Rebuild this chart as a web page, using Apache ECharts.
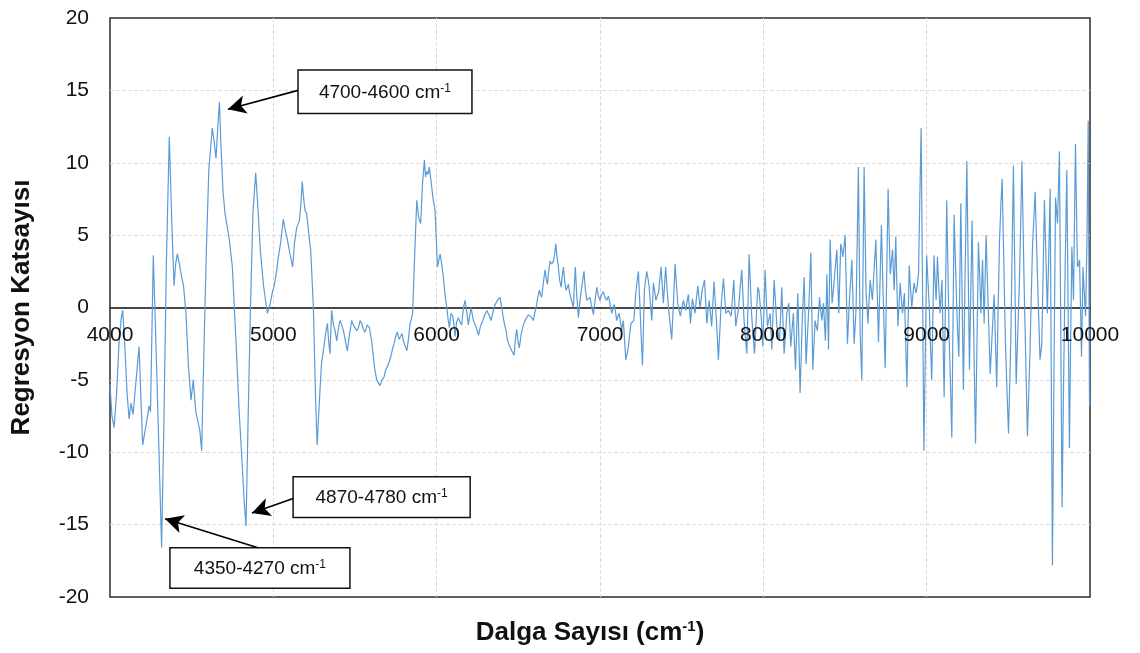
<!DOCTYPE html>
<html>
<head>
<meta charset="utf-8">
<script src="https://cdn.jsdelivr.net/npm/echarts@6/dist/echarts.min.js"></script>
<style>html,body{margin:0;padding:0;background:#fff;}#c{width:1140px;height:653px;}</style>
</head>
<body>
<div id="c"></div>
<script>
// ---- DATA ----
const wavenumbers = [
4000,4012,4025,4040,4055,4068,4078,4090,4105,4117,4129,4141,4160,4178,4190,4200,4215,4230,4239,4248,4265,4280,4300,4316,4330,4345,4363,4378,4392,4402,4412,4425,4439,4450,4465,4480,4496,4510,4525,4537,4550,4561,4575,4590,4605,4626,4637,4649,4660,4670,4680,4692,4704,4729,4749,4770,4790,4810,4822,4833,4845,4860,4875,4892,4905,4920,4940,4963,4980,4993,5005,5020,5031,5045,5061,5075,5086,5100,5118,5130,5143,5159,5168,5177,5186,5194,5204,5218,5229,5245,5258,5268,5282,5294,5306,5320,5331,5340,5347,5357,5368,5378,5388,5398,5408,5419,5429,5441,5453,5467,5480,5490,5500,5510,5521,5531,5541,5551,5561,5575,5588,5602,5613,5623,5633,5643,5653,5665,5678,5688,5698,5708,5719,5729,5739,5749,5759,5770,5780,5788,5796,5806,5817,5827,5837,5845,5853,5865,5878,5890,5902,5913,5925,5932,5939,5947,5955,5968,5978,5990,6005,6021,6031,6041,6052,6062,6070,6078,6088,6099,6106,6113,6122,6133,6143,6153,6164,6174,6184,6194,6203,6211,6218,6225,6240,6256,6268,6282,6295,6307,6320,6333,6345,6358,6372,6388,6398,6408,6416,6425,6433,6443,6452,6460,6467,6474,6482,6490,6498,6506,6518,6531,6541,6551,6562,6572,6582,6592,6600,6609,6619,6629,6636,6643,6653,6664,6671,6678,6686,6694,6704,6715,6722,6729,6737,6745,6753,6762,6769,6776,6784,6792,6800,6807,6814,6821,6830,6837,6843,6849,6858,6868,6875,6882,6892,6902,6910,6919,6929,6939,6950,6960,6970,6980,6990,7000,7010,7021,7031,7041,7052,7062,7072,7080,7088,7095,7102,7110,7117,7125,7133,7138,7143,7150,7158,7166,7174,7182,7190,7198,7207,7213,7219,7227,7235,7240,7245,7252,7260,7266,7272,7279,7286,7294,7301,7309,7317,7322,7327,7335,7342,7350,7358,7366,7374,7381,7388,7395,7402,7410,7419,7429,7439,7450,7460,7468,7476,7484,7492,7501,7511,7518,7525,7533,7541,7548,7554,7560,7566,7574,7582,7590,7599,7606,7613,7620,7627,7634,7640,7647,7654,7661,7668,7676,7684,7691,7698,7705,7713,7719,7725,7733,7741,7748,7756,7763,7770,7778,7786,7795,7803,7811,7819,7825,7831,7839,7847,7857,7868,7875,7882,7890,7899,7906,7913,7921,7929,7937,7946,7956,7966,7973,7980,7988,7997,8004,8011,8018,8025,8033,8042,8047,8052,8059,8066,8075,8083,8091,8099,8106,8113,8120,8127,8136,8144,8150,8156,8162,8168,8176,8184,8190,8197,8204,8211,8218,8225,8232,8238,8244,8250,8256,8262,8269,8276,8284,8291,8297,8303,8310,8317,8324,8331,8338,8344,8351,8358,8363,8368,8374,8380,8385,8389,8394,8399,8404,8409,8415,8421,8428,8434,8442,8450,8456,8462,8468,8474,8481,8487,8494,8501,8508,8515,8521,8527,8535,8542,8549,8556,8562,8568,8575,8582,8587,8593,8598,8603,8610,8617,8623,8629,8635,8640,8647,8654,8661,8668,8678,8689,8697,8705,8714,8723,8734,8746,8755,8764,8770,8777,8784,8791,8796,8801,8806,8811,8817,8824,8831,8838,8845,8852,8858,8864,8871,8879,8886,8893,8901,8909,8916,8923,8929,8936,8943,8950,8958,8966,8975,8983,8992,9000,9008,9016,9023,9031,9038,9045,9051,9058,9062,9066,9074,9082,9088,9094,9100,9107,9115,9123,9130,9137,9146,9154,9161,9168,9176,9184,9190,9197,9203,9209,9217,9225,9235,9246,9254,9262,9270,9278,9288,9299,9308,9317,9325,9332,9337,9342,9347,9352,9358,9364,9376,9389,9401,9413,9421,9429,9437,9446,9454,9462,9472,9482,9491,9501,9508,9515,9523,9531,9540,9548,9558,9568,9576,9583,9590,9597,9607,9617,9625,9633,9640,9648,9656,9664,9671,9678,9686,9694,9700,9705,9713,9721,9730,9739,9748,9756,9763,9770,9779,9789,9795,9801,9807,9813,9821,9829,9838,9848,9853,9858,9866,9874,9881,9889,9894,9899,9905,9911,9917,9923,9930,9936,9942,9948,9953,9957,9961,9965,9969,9973,9977,9981,9985,9989,9993,9997,10000
];
const coefficients = [
-5.3,-7.5,-8.3,-6.0,-2.5,-0.8,-0.2,-2.5,-6.0,-7.7,-6.6,-7.4,-5.0,-2.7,-6.5,-9.5,-8.5,-7.5,-6.8,-7.2,3.6,-2.0,-10.0,-16.6,-8.0,3.0,11.8,6.0,1.5,3.0,3.7,3.0,2.1,1.5,-0.4,-4.0,-6.4,-5.0,-7.2,-7.8,-8.5,-9.9,-3.0,4.0,9.5,12.4,11.5,10.3,12.5,14.2,11.0,8.0,6.5,4.8,2.8,-2.0,-7.0,-11.0,-13.5,-15.1,-8.0,0.0,6.5,9.3,7.0,4.0,1.5,-0.4,0.2,1.0,1.5,2.5,3.5,4.5,6.1,5.2,4.7,3.8,2.8,4.5,5.5,6.0,7.0,8.7,7.5,6.7,6.5,5.0,3.9,0.0,-6.0,-9.5,-6.5,-4.0,-3.0,-1.8,-1.1,-2.5,-3.2,-0.2,-1.2,-1.6,-2.3,-1.5,-0.9,-1.2,-1.6,-2.3,-3.0,-1.8,-0.9,-1.2,-1.1,-1.6,-1.4,-0.9,-1.1,-1.5,-1.7,-1.2,-1.4,-2.3,-3.5,-4.4,-5.0,-5.1,-5.4,-5.0,-4.8,-4.3,-4.1,-3.8,-3.4,-2.9,-2.5,-2.0,-1.7,-2.2,-2.1,-1.8,-2.3,-2.6,-3.0,-2.2,-1.1,-0.8,-0.4,3.5,7.4,6.2,5.8,8.5,10.2,9.0,9.4,9.2,9.7,8.5,7.5,6.7,2.8,3.7,3.0,2.1,0.8,0.0,-0.8,-1.4,-0.4,-0.6,-1.2,-2.0,-1.0,-0.7,-1.0,-1.2,0.0,0.5,-0.3,-1.2,-0.5,0.0,-0.5,-0.9,-1.3,-1.9,-1.3,-0.9,-0.5,-0.2,-0.5,-0.9,-0.3,0.2,0.5,0.7,0.0,-0.7,-1.2,-1.6,-2.2,-2.6,-2.8,-3.0,-3.1,-3.3,-2.2,-1.5,-2.3,-2.8,-1.8,-1.2,-0.9,-0.7,-0.5,-0.5,-0.7,-0.9,-0.4,0.0,0.7,1.2,0.9,0.7,1.7,2.6,2.0,1.6,2.5,3.2,3.0,3.2,3.6,4.4,3.5,2.8,1.9,1.4,2.2,2.8,1.8,1.2,1.4,1.6,1.0,0.7,0.3,0.0,1.5,2.8,0.8,-0.7,0.2,0.9,1.7,2.5,1.3,0.5,0.6,0.7,0.0,-0.5,0.5,1.4,0.8,0.5,0.9,1.1,0.7,0.5,0.8,0.9,-0.4,0.0,0.2,-0.3,-0.9,-0.6,-0.4,-1.0,-1.6,-1.2,-0.9,-2.2,-3.6,-3.2,-2.7,-1.8,-1.1,-1.0,-0.9,0.0,1.0,1.8,2.5,1.2,0.0,-2.0,-4.0,-1.4,1.2,1.9,2.5,2.0,1.4,0.2,-0.9,0.4,1.7,1.1,0.5,0.8,1.0,1.9,2.8,1.5,0.3,1.5,2.8,1.4,0.0,-1.1,-2.2,0.4,3.0,1.6,0.3,-0.2,-0.6,0.0,0.5,0.1,-0.2,0.4,0.9,-0.1,-1.1,-0.2,0.6,0.1,-0.4,0.6,1.5,0.7,0.0,0.6,1.3,1.6,1.9,0.4,-1.1,-0.3,0.5,-0.4,-1.3,0.3,1.8,0.5,-0.9,-2.2,-3.6,-1.8,0.0,1.0,2.0,0.8,-0.4,-0.3,-0.2,-0.4,-0.6,0.6,1.9,0.3,-1.3,-0.7,-0.2,1.2,2.6,0.9,-0.9,-2.0,-3.2,0.2,3.7,1.5,-0.6,-1.9,-3.2,-0.9,1.4,1.2,1.2,-0.8,-2.7,0.0,2.6,0.6,-1.3,-0.9,-0.4,-1.7,-2.9,-0.5,1.9,0.3,-1.3,-1.8,-2.3,-0.5,1.4,-0.9,-3.2,-1.8,-0.4,0.0,0.3,-1.2,-2.7,-1.5,-0.4,-2.4,-4.3,-1.6,1.0,-2.5,-5.9,-3.4,-0.9,0.6,2.1,-0.9,-3.9,-2.2,-0.6,1.6,3.8,-0.3,-4.3,-2.6,-0.9,-1.3,-1.6,-0.4,0.7,-0.1,-0.9,-0.3,0.3,-1.0,-2.3,0.0,2.3,-0.3,-2.9,0.9,4.7,2.5,0.3,1.1,1.9,3.0,4.0,1.8,-0.4,2.0,4.4,4.0,3.5,4.2,5.0,1.2,-2.5,-1.0,0.5,1.9,3.3,0.4,-2.5,-1.3,0.0,4.8,9.7,4.0,-1.8,-3.4,-5.0,2.3,9.7,5.3,1.0,0.0,-1.1,0.4,1.9,1.2,0.5,2.6,4.7,1.2,-2.4,1.6,5.7,0.7,-4.2,2.0,8.2,5.2,2.3,3.1,4.0,2.6,1.2,3.0,4.9,1.8,-1.3,0.2,1.7,0.6,-0.4,0.3,1.0,-2.2,-5.5,-1.3,2.9,1.4,0.0,0.9,1.7,1.3,1.0,1.6,2.3,7.5,12.4,1.0,-9.9,-3.0,3.6,1.8,0.0,-2.5,-5.0,-0.7,3.6,2.0,0.5,2.0,3.5,1.5,-0.4,0.8,1.9,-2.1,-6.2,0.6,7.4,2.8,-1.8,-5.4,-9.0,-1.3,6.4,3.2,0.0,-1.7,-3.4,1.9,7.2,0.8,-5.7,2.2,10.1,2.9,-4.3,0.9,6.0,-1.7,-9.4,-2.4,4.5,2.0,-0.4,1.5,3.3,1.1,-1.1,2.0,5.0,0.2,-4.6,-1.8,0.9,-2.3,-5.5,-0.5,4.6,7.0,8.9,3.3,-2.3,-5.5,-8.7,-5.5,-2.3,3.8,9.8,2.2,-5.3,-1.7,1.9,6.0,10.1,5.8,1.4,-3.7,-8.9,-5.9,-2.9,0.6,4.2,6.1,8.0,5.2,2.3,-0.7,-3.6,-3.0,-2.5,2.5,7.4,3.5,-0.4,3.9,8.2,-4.8,-17.8,-5.1,7.6,6.7,5.8,8.3,10.8,-1.5,-13.8,-5.5,2.8,6.2,9.5,-0.1,-9.7,-2.7,4.2,2.4,0.5,5.9,11.3,7.0,2.8,3.0,3.3,0.0,-3.4,-0.3,2.8,1.9,1.0,0.2,-0.6,1.8,4.2,8.5,12.9,3.0,-6.6,-6.8
];
const xTicks = [4000, 5000, 6000, 7000, 8000, 9000, 10000];
const yTicks = [-20, -15, -10, -5, 0, 5, 10, 15, 20];
const annotationLabels = ['4700-4600', '4870-4780', '4350-4270'];
const xTitle = 'Dalga Sayısı (cm';
const yTitle = 'Regresyon Katsayısı';

// ---- ANNOTATION PLACEMENT (data coordinates) ----
const annotationLayout = [
  { box: [5151, 16.4, 6216, 13.4], from: [5151, 15.0], to: [4722, 13.7] },
  { box: [5121, -11.7, 6205, -14.5], from: [5121, -13.2], to: [4869, -14.2] },
  { box: [4367, -16.6, 5469, -19.4], from: [4906, -16.6], to: [4337, -14.6] }
];

const FONT = '"Liberation Sans", Arial, sans-serif';
const seriesData = wavenumbers.map((w, i) => [w, coefficients[i]]);

const chart = echarts.init(document.getElementById('c'));
const option = {
  animation: false,
  backgroundColor: '#fff',
  grid: { left: 110, right: 50, top: 18, bottom: 56, containLabel: false, outerBoundsMode: 'none',
          show: true, borderColor: '#2b2b2b', borderWidth: 1.5, backgroundColor: 'transparent' },
  xAxis: {
    type: 'value', min: xTicks[0], max: xTicks[xTicks.length - 1], interval: 1000,
    axisLine: { onZero: true, lineStyle: { color: '#111', width: 1.5 } },
    axisTick: { show: false },
    axisLabel: { show: false },
    splitLine: { show: true, showMinLine: false, showMaxLine: false, lineStyle: { color: '#dcdcdc', type: 'dashed', width: 1 } }
  },
  yAxis: {
    type: 'value', min: yTicks[0], max: yTicks[yTicks.length - 1], interval: 5,
    name: yTitle, nameLocation: 'middle', nameGap: 75,
    nameTextStyle: { fontFamily: FONT, fontSize: 26, fontWeight: 'bold', color: '#111' },
    axisLine: { show: false },
    axisTick: { show: false },
    axisLabel: { fontFamily: FONT, fontSize: 21, color: '#111', margin: 21, formatter: v => String(v) },
    splitLine: { show: true, showMinLine: false, showMaxLine: false, lineStyle: { color: '#dcdcdc', type: 'dashed', width: 1 } }
  },
  series: [{
    type: 'line', data: seriesData, showSymbol: false, smooth: false,
    lineStyle: { color: '#5b9bd5', width: 1.2 },
    markLine: {
      silent: true, symbol: ['none', 'arrow'], symbolSize: [14, 18],
      label: { show: false },
      lineStyle: { color: '#000', width: 1.6, type: 'solid' },
      data: annotationLayout.map(a => [{ coord: a.from }, { coord: a.to }])
    },
    z: 3
  }]
};
chart.setOption(option);

function drawOverlay() {
  const elements = [];
  // x tick labels under the zero line, positioned through the axis scale
  xTicks.forEach(t => {
    const p = chart.convertToPixel({ gridIndex: 0 }, [t, 0]);
    elements.push({ type: 'text', x: p[0], y: p[1] + 17, z: 5,
      style: { text: String(t), align: 'center', verticalAlign: 'top',
               fontFamily: FONT, fontSize: 21, fill: '#111' } });
  });
  // x axis title below the plot
  const left = chart.convertToPixel({ gridIndex: 0 }, [xTicks[0], yTicks[0]]);
  const right = chart.convertToPixel({ gridIndex: 0 }, [xTicks[xTicks.length - 1], yTicks[0]]);
  elements.push({ type: 'text', x: (left[0] + right[0]) / 2 - 10, y: left[1] + 36, z: 5,
    style: { text: '{t|' + xTitle + '}{s|-1}{t|)}', align: 'center', verticalAlign: 'middle',
      rich: {
        t: { fontFamily: FONT, fontSize: 26, fontWeight: 'bold', fill: '#111' },
        s: { fontFamily: FONT, fontSize: 15, fontWeight: 'bold', fill: '#111', padding: [0, 0, 12, 0] }
      } } });
  annotationLayout.forEach((a, i) => {
    const p1 = chart.convertToPixel({ gridIndex: 0 }, [a.box[0], a.box[1]]);
    const p2 = chart.convertToPixel({ gridIndex: 0 }, [a.box[2], a.box[3]]);
    const w = p2[0] - p1[0], h = p2[1] - p1[1];
    elements.push({
      type: 'group', z: 10,
      children: [
        { type: 'rect', shape: { x: p1[0], y: p1[1], width: w, height: h },
          style: { fill: '#fff', stroke: '#111', lineWidth: 1.5 } },
        { type: 'text', x: p1[0] + w / 2, y: p1[1] + h / 2 + 1,
          style: {
            text: '{a|' + annotationLabels[i] + ' cm}{s|-1}',
            align: 'center', verticalAlign: 'middle',
            rich: {
              a: { fontFamily: FONT, fontSize: 19, fill: '#111' },
              s: { fontFamily: FONT, fontSize: 12, fill: '#111', padding: [0, 0, 9, 0] }
            }
          } }
      ]
    });
  });
  chart.setOption({ graphic: elements });
}
drawOverlay();
</script>
</body>
</html>
